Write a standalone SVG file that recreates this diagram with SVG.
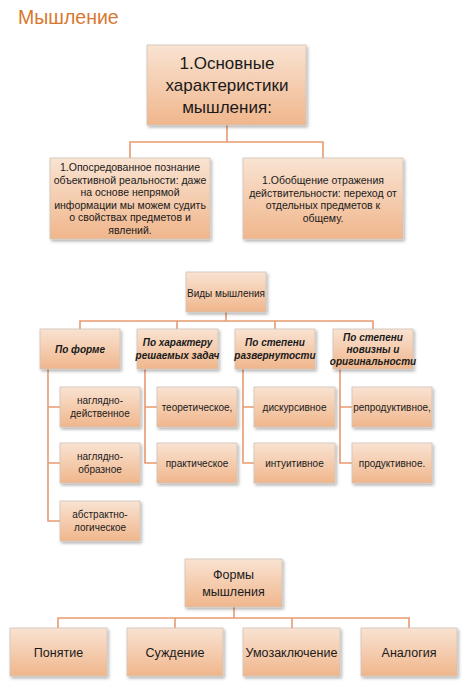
<svg xmlns="http://www.w3.org/2000/svg" width="474" height="697" viewBox="0 0 474 697">
<style>
.box{fill:url(#g);stroke:#cfc2b8;stroke-width:0.8;filter:url(#sh)}
.t{font-family:"Liberation Sans",Arial,sans-serif;fill:#1a1a1a;text-anchor:middle}
.c{fill:none;stroke:#e89a70;stroke-width:1.6}
.bi{font-weight:bold;font-style:italic}
</style>
<defs>
<linearGradient id="g" x1="0" y1="0" x2="0" y2="1">
<stop offset="0" stop-color="#f9e3d2"/>
<stop offset="1" stop-color="#f0b68c"/>
</linearGradient>
<filter id="sh" x="-10%" y="-10%" width="130%" height="140%">
<feDropShadow dx="1.5" dy="2" stdDeviation="1.5" flood-color="#000" flood-opacity="0.3"/>
</filter>
</defs>
<rect width="474" height="697" fill="#fff"/>
<text x="18" y="24" style="font-family:'Liberation Sans',Arial,sans-serif;font-size:19.5px;fill:#d8782f">Мышление</text>

<g id="connectors">
<path class="c" d="M227 125V142M130 158V142H323V158"/>
<path class="c" d="M226 312V321M80 329V321H373V329"/>
<path class="c" d="M177 321V329M275 321V329"/>
<path class="c" d="M48 369V521H60M48 407H60M48 463H60"/>
<path class="c" d="M145 369V463H157M145 407H157"/>
<path class="c" d="M243 369V463H254M243 407H254"/>
<path class="c" d="M340 369V463H352M340 407H352"/>
<path class="c" d="M234 607V618M58 628V618H409V628M175 618V628M292 618V628"/>
</g>

<g id="n1"><rect class="box" x="147" y="45" width="159" height="80"/>
<text class="t" style="font-size:17px"><tspan x="227" y="69">1.Основные</tspan><tspan x="227" y="91">характеристики</tspan><tspan x="227" y="113">мышления:</tspan></text></g>

<g id="n2"><rect class="box" x="50" y="158" width="160" height="81"/>
<text class="t" style="font-size:10.5px"><tspan x="130" y="171">1.Опосредованное познание</tspan><tspan x="130" y="183.5">объективной реальности: даже</tspan><tspan x="130" y="196">на основе непрямой</tspan><tspan x="130" y="208.5">информации мы можем судить</tspan><tspan x="130" y="221">о свойствах предметов и</tspan><tspan x="130" y="233.5">явлений.</tspan></text></g>

<g id="n3"><rect class="box" x="243" y="158" width="160" height="81"/>
<text class="t" style="font-size:10.5px"><tspan x="323" y="184">1.Обобщение отражения</tspan><tspan x="323" y="196.5">действительности: переход от</tspan><tspan x="323" y="209">отдельных предметов к</tspan><tspan x="323" y="221.5">общему.</tspan></text></g>

<g id="n4"><rect class="box" x="186" y="272" width="80" height="40"/>
<text class="t" x="226" y="296.5" style="font-size:10px">Виды мышления</text></g>

<g id="n5"><rect class="box" x="40" y="329" width="80" height="40"/>
<text class="t bi" x="80" y="352.5" style="font-size:10px">По форме</text></g>
<g id="n6"><rect class="box" x="137" y="329" width="81" height="40"/>
<text class="t bi" style="font-size:10px"><tspan x="177.5" y="346">По характеру</tspan><tspan x="177.5" y="358.5">решаемых задач</tspan></text></g>
<g id="n7"><rect class="box" x="235" y="329" width="80" height="40"/>
<text class="t bi" style="font-size:10px"><tspan x="275" y="346">По степени</tspan><tspan x="275" y="358.5">развернутости</tspan></text></g>
<g id="n8"><rect class="box" x="333" y="329" width="80" height="40"/>
<text class="t bi" style="font-size:10px"><tspan x="373" y="341">По степени</tspan><tspan x="373" y="353">новизны и</tspan><tspan x="373" y="365">оригинальности</tspan></text></g>

<g id="n9"><rect class="box" x="60" y="387" width="80" height="40"/>
<text class="t" style="font-size:10px"><tspan x="100" y="404">наглядно-</tspan><tspan x="100" y="416.5">действенное</tspan></text></g>
<g id="n10"><rect class="box" x="60" y="443" width="80" height="40"/>
<text class="t" style="font-size:10px"><tspan x="100" y="460">наглядно-</tspan><tspan x="100" y="472.5">образное</tspan></text></g>
<g id="n11"><rect class="box" x="60" y="501" width="80" height="40"/>
<text class="t" style="font-size:10px"><tspan x="100" y="518">абстрактно-</tspan><tspan x="100" y="530.5">логическое</tspan></text></g>

<g id="n12"><rect class="box" x="157" y="387" width="80" height="40"/>
<text class="t" x="197" y="410.5" style="font-size:10px">теоретическое,</text></g>
<g id="n13"><rect class="box" x="157" y="443" width="80" height="40"/>
<text class="t" x="197" y="466.5" style="font-size:10px">практическое</text></g>
<g id="n14"><rect class="box" x="254" y="387" width="81" height="40"/>
<text class="t" x="294.5" y="410.5" style="font-size:10px">дискурсивное</text></g>
<g id="n15"><rect class="box" x="254" y="443" width="81" height="40"/>
<text class="t" x="294.5" y="466.5" style="font-size:10px">интуитивное</text></g>
<g id="n16"><rect class="box" x="352" y="387" width="80" height="40"/>
<text class="t" x="392" y="410.5" style="font-size:10px">репродуктивное,</text></g>
<g id="n17"><rect class="box" x="352" y="443" width="80" height="40"/>
<text class="t" x="392" y="466.5" style="font-size:10px">продуктивное.</text></g>

<g id="n18"><rect class="box" x="185" y="559" width="97" height="48"/>
<text class="t" style="font-size:12.5px"><tspan x="233.5" y="579">Формы</tspan><tspan x="233.5" y="596">мышления</tspan></text></g>

<g id="n19"><rect class="box" x="10" y="628" width="97" height="48"/>
<text class="t" x="58.5" y="656.5" style="font-size:12.5px">Понятие</text></g>
<g id="n20"><rect class="box" x="127" y="628" width="96" height="48"/>
<text class="t" x="175" y="656.5" style="font-size:12.5px">Суждение</text></g>
<g id="n21"><rect class="box" x="243" y="628" width="97" height="48"/>
<text class="t" x="291.5" y="656.5" style="font-size:12.5px">Умозаключение</text></g>
<g id="n22"><rect class="box" x="361" y="628" width="96" height="48"/>
<text class="t" x="409" y="656.5" style="font-size:12.5px">Аналогия</text></g>
</svg>
